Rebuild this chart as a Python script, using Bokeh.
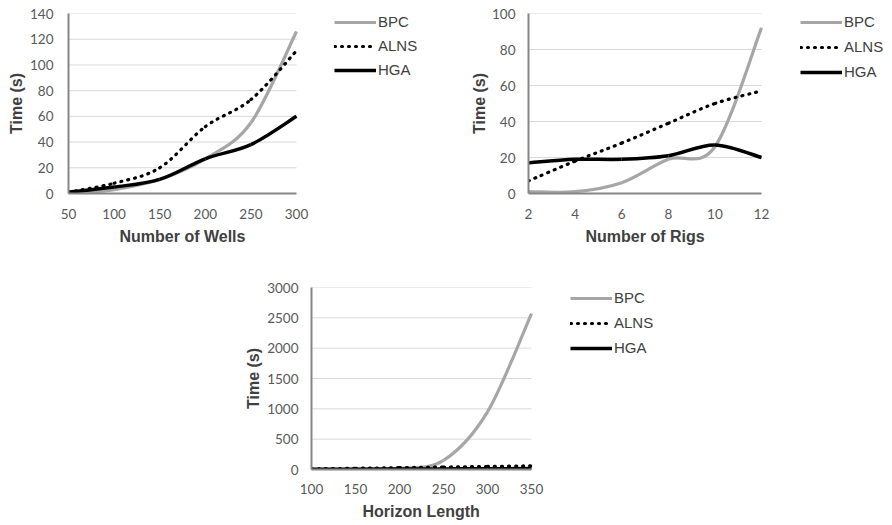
from bokeh.plotting import figure
from bokeh.models import Legend, LegendItem, FixedTicker, Range1d, Spacer, Title
from bokeh.layouts import column, row
from bokeh.embed import file_html
from bokeh.resources import INLINE

# ---------------- data ----------------
series_names = ["BPC", "ALNS", "HGA"]

wells = [50, 100, 150, 200, 250, 300]
bpc_wells = [0, 3, 11, 27, 55, 126]
alns_wells = [1, 8, 20, 52, 73, 111]
hga_wells = [1, 5, 11, 27, 38, 60]

rigs = [2, 4, 6, 8, 10, 12]
bpc_rigs = [1, 1, 6, 19, 26, 92]
alns_rigs = [7, 18, 28, 39, 50, 57]
hga_rigs = [17, 19, 19, 21, 27, 20]

horizon = [100, 150, 200, 250, 300, 350]
bpc_horizon = [2, 5, 20, 150, 950, 2570]
alns_horizon = [10, 20, 30, 40, 50, 60]
hga_horizon = [5, 6, 8, 10, 12, 15]

wells_yticks = [0, 20, 40, 60, 80, 100, 120, 140]
rigs_yticks = [0, 20, 40, 60, 80, 100]
horizon_yticks = [0, 500, 1000, 1500, 2000, 2500, 3000]

# ---------------- styling ----------------
STYLES = {
    "BPC": dict(line_color="#a6a6a6", line_width=3.2),
    "ALNS": dict(line_color="#000000", line_width=3.2, line_dash="1 6", line_cap="round"),
    "HGA": dict(line_color="#000000", line_width=3.5),
}
TICK_FONT = "Lato"
LABEL_FONT = "Liberation Sans"


def bezier_controls(xs, ys):
    """Excel-style smoothed line: cubic Bezier between successive data points."""
    n = len(xs)
    out = dict(x0=[], y0=[], x1=[], y1=[], cx0=[], cy0=[], cx1=[], cy1=[])
    for i in range(n - 1):
        im = max(i - 1, 0)
        ip = min(i + 2, n - 1)
        out["x0"].append(xs[i]); out["y0"].append(ys[i])
        out["x1"].append(xs[i + 1]); out["y1"].append(ys[i + 1])
        out["cx0"].append(xs[i] + (xs[i + 1] - xs[im]) / 6.0)
        out["cy0"].append(ys[i] + (ys[i + 1] - ys[im]) / 6.0)
        out["cx1"].append(xs[i + 1] - (xs[ip] - xs[i]) / 6.0)
        out["cy1"].append(ys[i + 1] - (ys[ip] - ys[i]) / 6.0)
    return out


def make_chart(xs, series, xticks, yticks, xlabel, xlabel_offset, width, height,
               left, top, bottom, data_px, legend_xy, legend_spacing,
               ytick_standoff, ylabel_standoff, xtick_standoff):
    right = 4
    frame_w = width - left - right
    # the plotting frame also holds the legend to the right of the data area
    x_end = xticks[0] + frame_w * (xticks[-1] - xticks[0]) / data_px
    p = figure(width=width, height=height, output_backend="svg", toolbar_location=None,
               x_range=Range1d(xticks[0], x_end), y_range=Range1d(yticks[0], yticks[-1]),
               min_border_left=left, min_border_right=right,
               min_border_top=top, min_border_bottom=bottom)
    p.outline_line_color = None
    p.background_fill_color = "white"
    p.border_fill_color = "white"

    # horizontal gridlines limited to the data area
    p.xgrid.grid_line_color = None
    p.ygrid.grid_line_color = None
    p.segment(x0=[xticks[0]] * len(yticks), x1=[xticks[-1]] * len(yticks),
              y0=yticks, y1=yticks, line_color="#d9d9d9", line_width=1)

    items = []
    for name, ys in zip(series_names, series):
        r = p.bezier(**bezier_controls(xs, ys), **STYLES[name])
        items.append(LegendItem(label=name, renderers=[r]))

    # axes
    p.xaxis.ticker = FixedTicker(ticks=xticks)
    p.yaxis.ticker = FixedTicker(ticks=yticks)
    p.xaxis.bounds = (xticks[0], xticks[-1])
    for ax in (p.xaxis[0], p.yaxis[0]):
        ax.axis_line_color = "#868686"
        ax.axis_line_width = 2
        ax.major_tick_line_color = None
        ax.minor_tick_line_color = None
        ax.major_tick_out = 0
        ax.major_tick_in = 0
        ax.major_label_text_font = TICK_FONT
        ax.major_label_text_font_size = "13.5px"
        ax.major_label_text_color = "#595959"
        ax.axis_label_text_font = LABEL_FONT
        ax.axis_label_text_font_size = "16px"
        ax.axis_label_text_font_style = "bold"
        ax.axis_label_text_color = "#404040"
    p.yaxis.axis_label = "Time (s)"
    p.yaxis.major_label_standoff = ytick_standoff
    p.yaxis.axis_label_standoff = ylabel_standoff
    p.xaxis.major_label_standoff = xtick_standoff

    # x-axis title centred under the data area (not under the legend)
    xt = Title(text=xlabel, align="left", offset=xlabel_offset, standoff=9,
               text_font=LABEL_FONT, text_font_size="16px", text_font_style="bold",
               text_color="#404040")
    p.add_layout(xt, "below")

    legend = Legend(items=items, location=legend_xy,
                    glyph_width=42, glyph_height=16, label_height=16,
                    spacing=legend_spacing, padding=0, margin=0, label_standoff=2,
                    label_text_font=LABEL_FONT, label_text_font_size="15px",
                    label_text_color="#404040",
                    border_line_color=None, background_fill_alpha=0)
    p.add_layout(legend, "center")
    return p


p1 = make_chart(wells, [bpc_wells, alns_wells, hga_wells], wells, wells_yticks,
                "Number of Wells", 51, 460, 252, 68, 13, 58, 228, (266, 115), 7, 15, 2, 15)
p2 = make_chart(rigs, [bpc_rigs, alns_rigs, hga_rigs], rigs, rigs_yticks,
                "Number of Rigs", 57, 432, 252, 68, 13, 59, 233, (272, 113), 8, 13, 1, 15)
p3 = make_chart(horizon, [bpc_horizon, alns_horizon, hga_horizon], horizon, horizon_yticks,
                "Horizon Length", 51, 460, 272, 70, 35, 55, 220, (259, 113), 8, 13, 2, 14)

page = column(row(p1, p2), row(Spacer(width=241, height=272), p3))

open("out.html", "w").write(file_html(page, INLINE))
